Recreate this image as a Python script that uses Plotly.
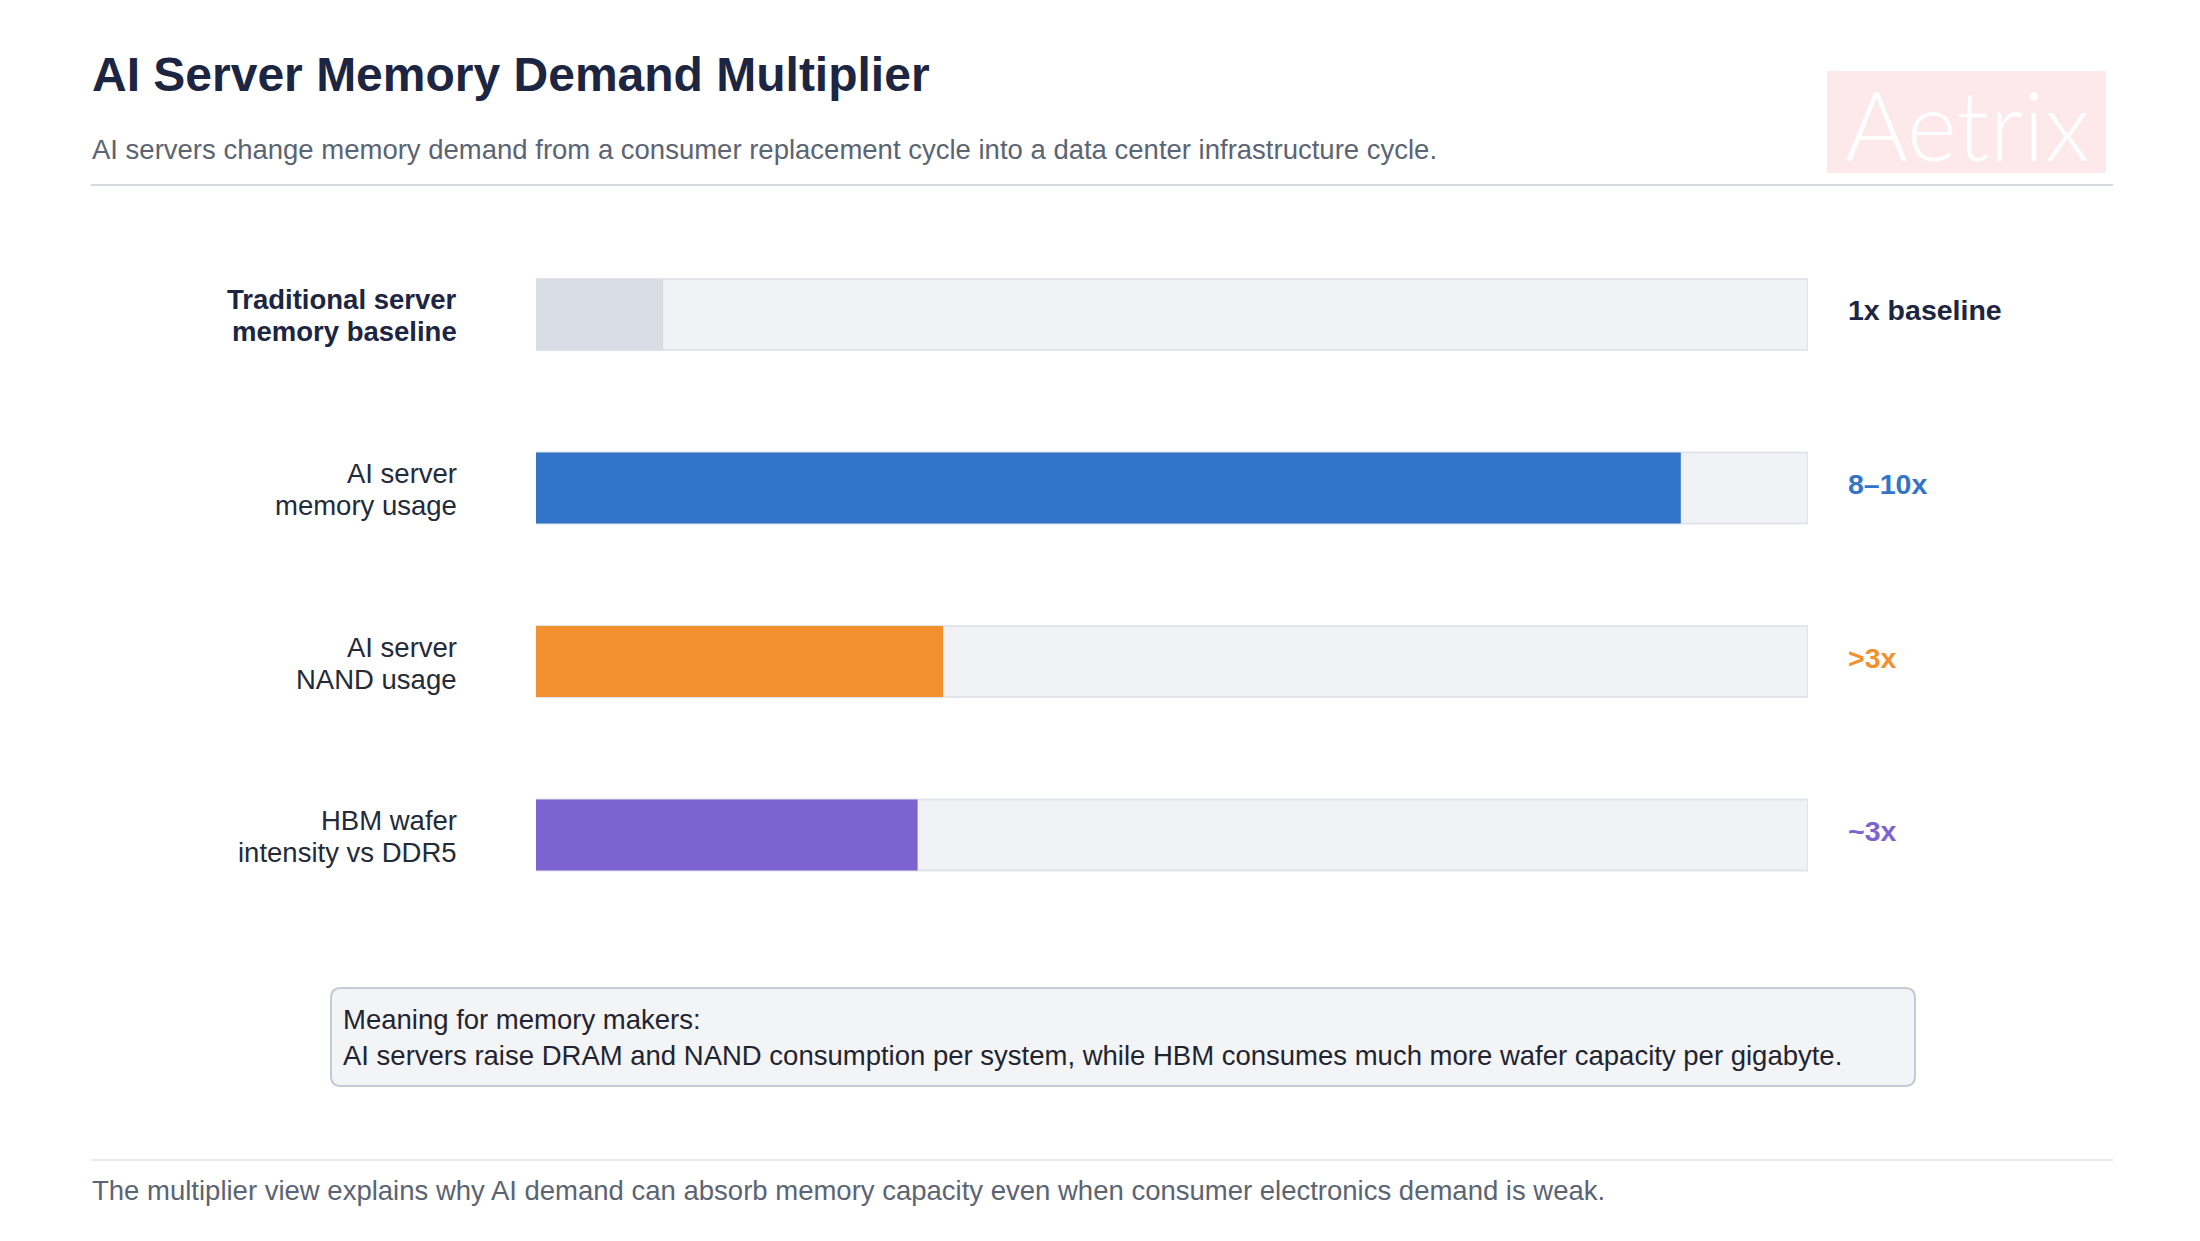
import plotly.graph_objects as go

W, H = 2200, 1241

# ---- data ----
categories = [["Traditional server", "memory baseline"], ["AI server", "memory usage"],
              ["AI server", "NAND usage"], ["HBM wafer", "intensity vs DDR5"]]
cat_ids = ["baseline", "dram", "nand", "hbm"]
multiplier = [1.0, 9.0, 3.2, 3.0]
scale_max = [10, 10, 10, 10]
value_labels = ["1x baseline", "8–10x", ">3x", "~3x"]
bar_colors = ["#d9dee6", "#3274c8", "#f28f2e", "#7d63d2"]
label_colors = ["#1c2541", "#3274c8", "#f28f2e", "#7d63d2"]

title = "AI Server Memory Demand Multiplier"
subtitle = ("AI servers change memory demand from a consumer replacement cycle "
            "into a data center infrastructure cycle.")
note_title = "Meaning for memory makers:"
note_body = ("AI servers raise DRAM and NAND consumption per system, while HBM consumes "
             "much more wafer capacity per gigabyte.")
footer = ("The multiplier view explains why AI demand can absorb memory capacity "
          "even when consumer electronics demand is weak.")
watermark = "Aetrix"


def X(px):
    return px / W


def Y(py):
    return 1 - py / H


FONT = "Liberation Sans, Arial, Helvetica, sans-serif"
TXT = 27.5

fig = go.Figure()
fig.add_trace(go.Bar(
    y=cat_ids, x=scale_max, orientation="h", width=0.41,
    marker=dict(color="#f0f2f5", line=dict(color="#e1e4ea", width=2)),
    hoverinfo="skip", showlegend=False))
fig.add_trace(go.Bar(
    y=cat_ids, x=multiplier, orientation="h", width=0.41,
    marker=dict(color=bar_colors, line=dict(width=0)),
    hoverinfo="skip", showlegend=False))

ann = []
# Title / subtitle
ann.append(dict(text=f"<b>{title}</b>", x=X(90), y=Y(74), xref="paper", yref="paper",
                xanchor="left", yanchor="middle", showarrow=False,
                font=dict(family=FONT, size=48, color="#1c2541")))
ann.append(dict(text=subtitle, x=X(90), y=Y(149), xref="paper", yref="paper",
                xanchor="left", yanchor="middle", showarrow=False,
                font=dict(family=FONT, size=TXT, color="#5b6472")))
# Watermark
ann.append(dict(text=watermark, x=X(1967), y=Y(124), xref="paper", yref="paper",
                xanchor="center", yanchor="middle", showarrow=False,
                font=dict(family="Lato, Liberation Sans, sans-serif", size=96,
                          color="#ffffff", weight=300)))
# Row labels and value labels
for i, (cid, lines) in enumerate(zip(cat_ids, categories)):
    for j, line in enumerate(lines):
        txt = f"<b>{line}</b>" if i == 0 else line
        ann.append(dict(text=txt, x=X(459), y=cid, xref="paper", yref="y",
                        xanchor="right", yanchor="middle", align="right", showarrow=False,
                        yshift=14.5 if j == 0 else -17.5,
                        font=dict(family=FONT, size=TXT,
                                  color="#1c2541" if i == 0 else "#232a38")))
    ann.append(dict(text=f"<b>{value_labels[i]}</b>", x=X(1846), y=cid, xref="paper", yref="y",
                    xanchor="left", yanchor="middle", showarrow=False, yshift=4,
                    font=dict(family=FONT, size=28.5, color=label_colors[i])))
# Note box text
ann.append(dict(text=f"{note_title}<br>{note_body}", x=X(341), y=Y(1037),
                xref="paper", yref="paper", xanchor="left", yanchor="middle",
                align="left", showarrow=False,
                font=dict(family=FONT, size=TXT, color="#1f2430")))
# Footer
ann.append(dict(text=footer, x=X(90), y=Y(1190), xref="paper", yref="paper",
                xanchor="left", yanchor="middle", showarrow=False,
                font=dict(family=FONT, size=TXT, color="#5b6472")))


def rounded_rect(x0, y0, x1, y1, r):
    # pixel coordinates -> paper path with rounded corners
    pts = (f"M {X(x0 + r)},{Y(y0)} L {X(x1 - r)},{Y(y0)} Q {X(x1)},{Y(y0)} {X(x1)},{Y(y0 + r)} "
           f"L {X(x1)},{Y(y1 - r)} Q {X(x1)},{Y(y1)} {X(x1 - r)},{Y(y1)} "
           f"L {X(x0 + r)},{Y(y1)} Q {X(x0)},{Y(y1)} {X(x0)},{Y(y1 - r)} "
           f"L {X(x0)},{Y(y0 + r)} Q {X(x0)},{Y(y0)} {X(x0 + r)},{Y(y0)} Z")
    return pts


shapes = [
    # watermark box
    dict(type="rect", xref="paper", yref="paper", x0=X(1827), x1=X(2106), y0=Y(173), y1=Y(71),
         fillcolor="#fde9eb", line=dict(width=0), layer="below"),
    # header rule
    dict(type="line", xref="paper", yref="paper", x0=X(91), x1=X(2113), y0=Y(185), y1=Y(185),
         line=dict(color="#d5d9e0", width=2)),
    # note box
    dict(type="path", xref="paper", yref="paper", path=rounded_rect(331, 988, 1915, 1086, 10),
         fillcolor="#f3f4f6", line=dict(color="#c5cad4", width=2), layer="below"),
    # footer rule
    dict(type="line", xref="paper", yref="paper", x0=X(91), x1=X(2113), y0=Y(1160), y1=Y(1160),
         line=dict(color="#e2e5ea", width=1.5)),
]

fig.update_layout(
    width=W, height=H, margin=dict(l=0, r=0, t=0, b=0),
    paper_bgcolor="#ffffff", plot_bgcolor="rgba(0,0,0,0)",
    barmode="overlay", showlegend=False,
    xaxis=dict(domain=[X(536), X(1808)], range=[0, 10], visible=False, fixedrange=True),
    yaxis=dict(domain=[Y(921.75), Y(227.75)], categoryorder="array", categoryarray=cat_ids,
               range=[3.5, -0.5], visible=False, fixedrange=True),
    annotations=ann, shapes=shapes,
)

fig.write_html("out.html", config={"displayModeBar": False})
